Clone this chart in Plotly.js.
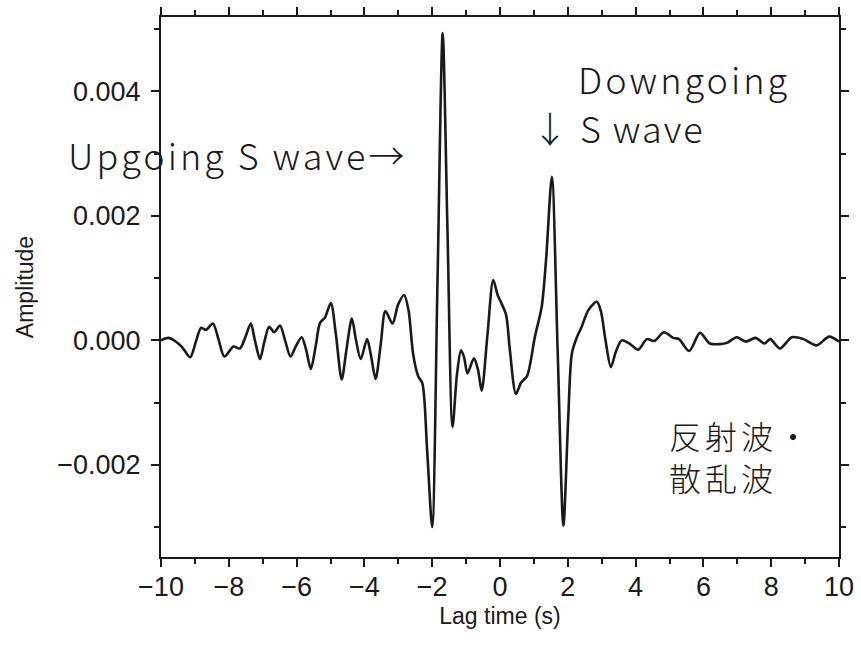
<!DOCTYPE html>
<html>
<head>
<meta charset="utf-8">
<script src="https://cdn.plot.ly/plotly-3.0.1.min.js"></script>
<style>
  html, body { margin: 0; padding: 0; background: #fff; }
  #chart { width: 861px; height: 646px; }
</style>
</head>
<body>
<div id="chart"></div>
<script>
// Lag time (s)
const lagTime = [
  -10.00, -9.78, -9.59, -9.39, -9.14, -8.97, -8.82, -8.67, -8.47, -8.30,
  -8.13, -7.86, -7.67, -7.52, -7.35, -7.23, -7.08, -6.95, -6.81, -6.66,
  -6.49, -6.33, -6.18, -6.02, -5.85, -5.72, -5.58, -5.43, -5.31, -5.16,
  -4.99, -4.84, -4.67, -4.53, -4.37, -4.25, -4.11, -3.92, -3.81, -3.67,
  -3.52, -3.38, -3.17, -3.01, -2.83, -2.70, -2.56, -2.41, -2.29, -2.15,
  -2.00, -1.845, -1.69, -1.55, -1.40, -1.27, -1.15, -1.06, -0.96, -0.77,
  -0.65, -0.54, -0.37, -0.20, -0.07, 0.04, 0.18, 0.29, 0.47, 0.62,
  0.80, 1.03, 1.23, 1.36, 1.53, 1.70, 1.87, 2.01, 2.12, 2.26,
  2.41, 2.61, 2.86, 2.98, 3.11, 3.27, 3.42, 3.59, 3.84, 4.08,
  4.33, 4.55, 4.84, 5.11, 5.28, 5.58, 5.90, 6.19, 6.49, 6.70,
  6.98, 7.25, 7.54, 7.80, 7.97, 8.26, 8.61, 8.95, 9.34, 9.71,
  10.00
];

// Amplitude
const amplitude = [
  0.00000, 0.00004, -0.00001, -0.00010, -0.00027, -0.00002, 0.00020, 0.00017, 0.00027, 0.00001,
  -0.00026, -0.00010, -0.00013, 0.00004, 0.00027, 0.00000, -0.00030, -0.00002, 0.00022, 0.00013,
  0.00024, -0.00002, -0.00026, -0.00009, 0.00005, -0.00015, -0.00046, -0.00007, 0.00028, 0.00037,
  0.00060, 0.00009, -0.00063, -0.00015, 0.00035, 0.00001, -0.00030, 0.00002, -0.00023, -0.00062,
  -0.00007, 0.00047, 0.00027, 0.00057, 0.00073, 0.00049, -0.00023, -0.00058, -0.00069, -0.00176,
  -0.00300, 0.00090, 0.00494, 0.00178, -0.00139, -0.00055, -0.00016, -0.00027, -0.00053, -0.00029,
  -0.00047, -0.00081, 0.00009, 0.00097, 0.00073, 0.00060, 0.00041, -0.00015, -0.00086, -0.00068,
  -0.00057, 0.00006, 0.00054, 0.00130, 0.00263, -0.00015, -0.00298, -0.00128, -0.00021, 0.00004,
  0.00022, 0.00049, 0.00062, 0.00046, 0.00001, -0.00043, -0.00018, 0.00000, -0.00006, -0.00015,
  0.00002, -0.00001, 0.00013, 0.00004, 0.00002, -0.00017, 0.00012, -0.00005, -0.00006, -0.00004,
  0.00005, -0.00002, 0.00004, -0.00005, 0.00002, -0.00013, 0.00005, 0.00002, -0.00008, 0.00006,
  -0.00002
];

const xTitle = 'Lag time (s)';
const yTitle = 'Amplitude';
const labelUp = 'Upgoing S wave→';
const labelDown1 = 'Downgoing';
const labelDown2 = '↓ S wave';
const labelScat = '反射波・<br>散乱波';

const tickFont = { family: '"Liberation Sans", Arial, Helvetica, sans-serif', size: 27, color: '#1a1a1a' };
const titleFont = { family: '"Liberation Sans", Arial, Helvetica, sans-serif', size: 23, color: '#1a1a1a' };
const annFont = { family: '"Noto Sans CJK JP", "Noto Sans", sans-serif', size: 36, color: '#1a1a1a', weight: 300 };
const annFontJP = { family: '"Noto Sans CJK JP", "Noto Sans", sans-serif', size: 32, color: '#1a1a1a', weight: 300 };

const trace = {
  x: lagTime,
  y: amplitude,
  type: 'scatter',
  mode: 'lines',
  line: { color: '#1a1a1a', width: 2.6, shape: 'spline', smoothing: 0.8 },
  hoverinfo: 'x+y'
};

const axisCommon = {
  showline: true, linewidth: 2, linecolor: '#1a1a1a', mirror: 'allticks',
  ticks: 'outside', ticklen: 8, tickwidth: 2, tickcolor: '#1a1a1a',
  showgrid: false, zeroline: false, tickfont: tickFont
};

const layout = {
  width: 861, height: 646,
  margin: { l: 161, r: 22, t: 17, b: 89, pad: 0 },
  paper_bgcolor: '#ffffff', plot_bgcolor: '#ffffff',
  showlegend: false,
  xaxis: Object.assign({}, axisCommon, {
    range: [-10, 10], tick0: -10, dtick: 2,
    minor: { dtick: 1, ticks: 'outside', ticklen: 5, tickwidth: 2, tickcolor: '#1a1a1a', showgrid: false },
    ticklabelstandoff: -3,
    title: { text: xTitle, font: titleFont, standoff: 6 }
  }),
  yaxis: Object.assign({}, axisCommon, {
    range: [-0.003481, 0.005196], tick0: 0, dtick: 0.002, tickformat: '.3f',
    minor: { dtick: 0.001, ticks: 'outside', ticklen: 5, tickwidth: 2, tickcolor: '#1a1a1a', showgrid: false },
    ticklabelstandoff: 5,
    title: { text: yTitle, font: titleFont, standoff: 17 }
  }),
  annotations: [
    { text: labelUp, xref: 'paper', yref: 'paper', x: -0.1401, y: 0.746, xanchor: 'left', yanchor: 'middle', align: 'left', showarrow: false, font: annFont },
    { text: labelDown1, xref: 'paper', yref: 'paper', x: 0.6121, y: 0.8865, xanchor: 'left', yanchor: 'middle', align: 'left', showarrow: false, font: annFont },
    { text: labelDown2, xref: 'paper', yref: 'paper', x: 0.5445, y: 0.796, xanchor: 'left', yanchor: 'middle', align: 'left', showarrow: false, font: annFont },
    { text: labelScat, xref: 'paper', yref: 'paper', x: 0.7463, y: 0.187, xanchor: 'left', yanchor: 'middle', align: 'left', showarrow: false, font: annFontJP }
  ]
};

const letterSpacings = ['3px', '3px', '2px', '4px'];

Plotly.newPlot('chart', [trace], layout, { displayModeBar: false, staticPlot: true }).then(function () {
  document.querySelectorAll('.annotation').forEach(function (a, i) {
    const t = a.querySelector('.annotation-text');
    if (t) t.style.letterSpacing = letterSpacings[i] || '3px';
  });
});
</script>
</body>
</html>
